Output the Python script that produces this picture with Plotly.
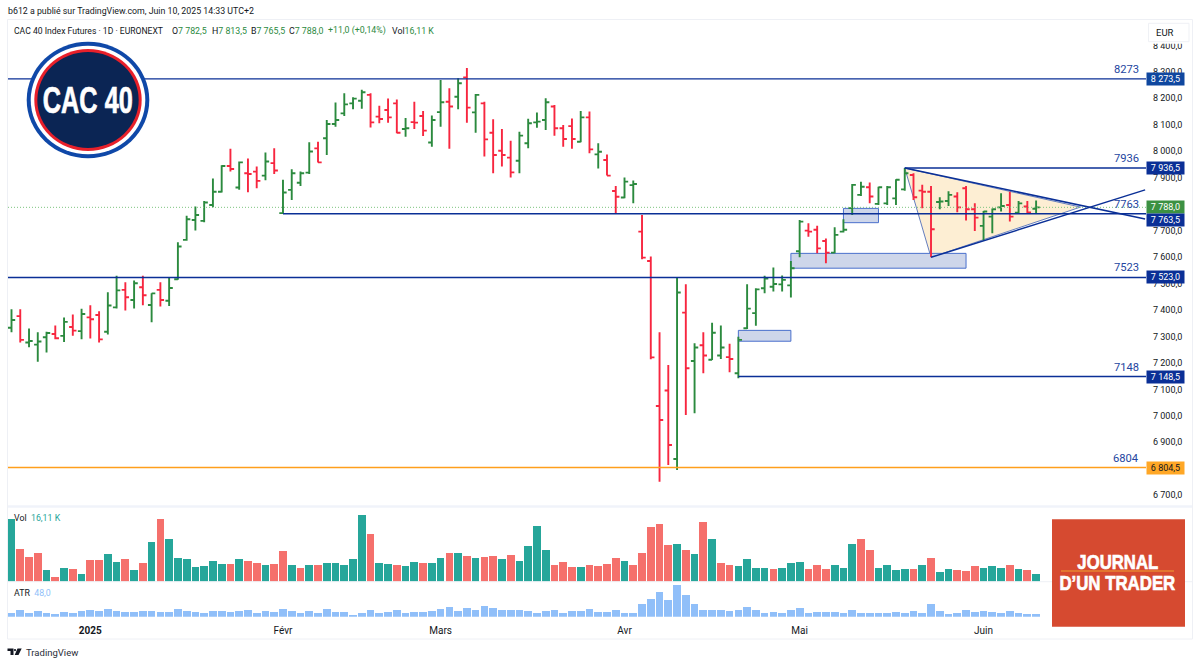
import plotly.graph_objects as go

W = 1200
H = 665

# bar number, one per trading day
bars = list(range(118))

open_ = [
    7333, 7377, 7277, 7269, 7297, 7309, 7302, 7336, 7320, 7372,
    7381, 7318, 7410, 7476, 7438, 7486, 7419, 7476, 7435, 7516,
    7665, 7740, 7737, 7797, 7847, 7944, 7863, 7917, 7923, 7908,
    7955, 7766, 7854, 7881, 7919, 8011, 8049, 8103, 8143, 8181,
    8191, 8213, 8131, 8156, 8181, 8084, 8110, 8133, 8033, 8148,
    8187, 8206, 8279, 8147, 8181, 8070, 8002, 7976, 7964, 8030,
    8109, 8118, 8169, 8087, 8095, 8036, 8128, 7988, 7967, 7850,
    7825, 7872, 7696, 7585, 7037, 7096, 6837, 7390, 7207, 7267,
    7212, 7228, 7222, 7161, 7331, 7388, 7482, 7488, 7497, 7493,
    7622, 7700, 7703, 7661, 7617, 7696, 7785, 7835, 7864, 7801,
    7803, 7822, 7856, 7910, 7851, 7847, 7808, 7812, 7829, 7860,
    7781, 7718, 7753, 7788, 7797, 7768, 7791, 7782.5,
]
high = [
    7403, 7403, 7330, 7316, 7318, 7341, 7372, 7383, 7405, 7418,
    7395, 7467, 7529, 7505, 7511, 7529, 7463, 7505, 7522, 7656,
    7756, 7791, 7812, 7897, 7947, 8009, 7961, 7973, 7942, 7995,
    8011, 7892, 7932, 7923, 8034, 8036, 8118, 8184, 8219, 8204,
    8232, 8219, 8172, 8199, 8196, 8126, 8187, 8152, 8135, 8269,
    8238, 8276, 8315, 8216, 8187, 8121, 8084, 8040, 8074, 8123,
    8146, 8200, 8175, 8099, 8124, 8152, 8150, 8030, 7988, 7869,
    7901, 7889, 7759, 7602, 7316, 7192, 7522, 7497, 7274, 7316,
    7352, 7341, 7272, 7299, 7497, 7482, 7529, 7561, 7530, 7585,
    7740, 7728, 7718, 7670, 7713, 7743, 7876, 7885, 7882, 7866,
    7869, 7894, 7936.5, 7917, 7873, 7869, 7826, 7849, 7845, 7869,
    7803, 7774, 7784, 7841, 7847, 7812, 7812, 7813.5,
]
low = [
    7316, 7277, 7259, 7204, 7239, 7289, 7279, 7303, 7289, 7292,
    7277, 7307, 7406, 7398, 7406, 7418, 7354, 7413, 7415, 7514,
    7662, 7700, 7732, 7788, 7844, 7923, 7854, 7845, 7860, 7890,
    7914, 7763.5, 7816, 7869, 7914, 7957, 7986, 8093, 8133, 8159,
    8161, 8090, 8106, 8108, 8068, 8055, 8084, 8058, 8017, 8093,
    8009, 8159, 8108, 8070, 7980, 7917, 7942, 7901, 7917, 8011,
    8089, 8080, 8059, 8017, 8009, 8034, 7992, 7935, 7908, 7763,
    7822, 7803, 7592, 7214, 6751, 6814, 6795, 7003, 7010, 7161,
    7211, 7215, 7165, 7142, 7328, 7340, 7463, 7470, 7470, 7447,
    7599, 7677, 7614, 7577, 7614, 7693, 7759, 7831, 7803, 7797,
    7797, 7797, 7851, 7816, 7785, 7599, 7781, 7793, 7769, 7738,
    7699, 7662, 7690, 7772, 7734, 7766, 7766, 7765.5,
]
close = [
    7362, 7287, 7283, 7281, 7313, 7293, 7355, 7322, 7385, 7365,
    7289, 7417, 7474, 7448, 7501, 7456, 7463, 7438, 7483, 7640,
    7743, 7759, 7806, 7847, 7944, 7933, 7958, 7914, 7888, 7961,
    7927, 7844, 7917, 7917, 7999, 7958, 8103, 8118, 8177, 8199,
    8223, 8109, 8122, 8128, 8070, 8087, 8108, 8078, 8118, 8185,
    8169, 8257, 8165, 8213, 8045, 7986, 7986, 7920, 8059, 8106,
    8112, 8185, 8087, 8046, 8046, 8128, 8007, 7998, 7908, 7828,
    7885, 7876, 7598, 7221, 6984, 6890, 7466, 7180, 7258, 7228,
    7314, 7258, 7215, 7287, 7405, 7478, 7519, 7498, 7514, 7558,
    7734, 7696, 7633, 7617, 7684, 7703, 7873, 7866, 7829, 7864,
    7864, 7892, 7917, 7826, 7847, 7705, 7810, 7835, 7788, 7781,
    7749, 7772, 7781, 7793, 7753, 7803, 7769, 7788,
]

# volume in thousands, 1 = up day
volume = [
    131, 69, 52, 60, 24, 10, 29, 27, 15, 46,
    46, 57, 41, 48, 25, 38, 83, 131, 89, 50,
    47, 30, 33, 44, 36, 36, 48, 44, 38, 34,
    36, 64, 34, 29, 34, 34, 39, 39, 34, 48,
    140, 99, 38, 36, 34, 33, 41, 39, 39, 50,
    60, 60, 53, 50, 52, 53, 47, 55, 44, 75,
    116, 66, 34, 41, 30, 30, 34, 32, 36, 49,
    43, 35, 60, 114, 121, 76, 78, 66, 58, 125,
    90, 39, 35, 32, 47, 29, 29, 26, 29, 39,
    41, 26, 34, 27, 34, 29, 78, 89, 67, 29,
    34, 24, 26, 26, 34, 49, 19, 26, 24, 22,
    32, 29, 32, 29, 34, 26, 24, 16.11,
]
volume_up = [
    1, 0, 0, 0, 1, 0, 1, 0, 1, 0,
    0, 1, 1, 0, 1, 0, 1, 0, 1, 1,
    1, 1, 1, 1, 1, 0, 1, 0, 0, 1,
    0, 0, 1, 0, 1, 0, 1, 1, 1, 1,
    1, 0, 1, 1, 0, 1, 1, 0, 1, 1,
    0, 1, 0, 1, 0, 0, 1, 0, 1, 1,
    1, 1, 0, 0, 0, 1, 0, 0, 0, 0,
    1, 0, 0, 0, 0, 0, 1, 0, 1, 0,
    1, 0, 0, 1, 1, 1, 1, 0, 1, 1,
    1, 0, 0, 0, 1, 1, 1, 0, 0, 1,
    1, 1, 1, 0, 1, 0, 1, 1, 0, 0,
    0, 1, 1, 1, 0, 1, 0, 1,
]
atr = [
    54, 65, 51, 62, 54, 48, 57, 54, 62, 65,
    62, 72, 62, 57, 57, 62, 62, 57, 57, 72,
    62, 57, 54, 62, 62, 57, 62, 65, 54, 62,
    57, 72, 62, 51, 62, 54, 72, 57, 57, 43,
    51, 65, 51, 57, 65, 51, 57, 57, 62, 72,
    83, 62, 78, 69, 86, 78, 65, 65, 69, 62,
    51, 62, 65, 54, 62, 62, 72, 57, 57, 69,
    54, 54, 96, 118, 153, 113, 185, 139, 94, 69,
    69, 65, 62, 69, 83, 69, 51, 57, 51, 65,
    75, 51, 57, 57, 57, 51, 69, 51, 54, 51,
    51, 57, 54, 62, 54, 94, 62, 48, 54, 65,
    57, 62, 57, 51, 62, 51, 48, 48,
]

price_ticks = [6700, 6900, 7000, 7100, 7200, 7300, 7400, 7500, 7600, 7700,
               7900, 8000, 8100, 8200, 8300, 8400]
date_ticks = [9, 31, 49, 70, 90, 111]
date_labels = ["<b>2025</b>", "Févr", "Mars", "Avr", "Mai", "Juin"]

# horizontal levels: price, label, first bar (None = from the left edge)
level_prices = [8273.5, 7936.5, 7763.5, 7523.0, 7148.5, 6804.5]
level_labels = ["8273", "7936", "7763", "7523", "7148", "6804"]
level_starts = [None, 102, 31, None, 83, None]

# wedge drawn on the chart
wedge_bars = [102, 105, 122.07]
wedge_prices = [7936.5, 7599, 7789]
upper_bars = [102, 129.45]
upper_prices = [7936.5, 7744]
lower_bars = [105, 129.45]
lower_prices = [7599, 7854]

# demand zones: first bar, last bar, bottom, top
zone_bars = [(83, 89), (89, 109), (95, 99)]
zone_prices = [(7282, 7323), (7558, 7614), (7730, 7784)]

GREEN = "#2b8a3e"
RED = "#f7263f"
NAVY = "#0a2f96"
ORANGE = "#ff9f1c"
FONT = "Roboto"
LOGO_FONT = "Liberation Sans"


# pixel position in the page -> paper fraction
def px(x):
    return x / W


def py(y):
    return 1 - y / H


X_RANGE = [-0.40, 129.55]

fig = go.Figure()

fig.add_trace(go.Ohlc(
    x=bars, open=open_, high=high, low=low, close=close, tickwidth=0.42,
    increasing=dict(line=dict(color=GREEN, width=1.9)),
    decreasing=dict(line=dict(color=RED, width=1.9)),
))

fig.add_trace(go.Scatter(
    x=X_RANGE, y=[close[-1], close[-1]], mode="lines",
    line=dict(color="#7cc47f", width=1, dash="1px,2px"),
))
for price, start in zip(level_prices, level_starts):
    fig.add_trace(go.Scatter(
        x=[X_RANGE[0] if start is None else start, X_RANGE[1]], y=[price, price],
        mode="lines",
        line=dict(color=ORANGE if price < 7000 else NAVY, width=1.4),
    ))
fig.add_trace(go.Scatter(x=upper_bars, y=upper_prices, mode="lines",
                         line=dict(color=NAVY, width=1.5)))
fig.add_trace(go.Scatter(x=lower_bars, y=lower_prices, mode="lines",
                         line=dict(color=NAVY, width=1.5)))

fig.add_trace(go.Bar(
    x=bars, y=volume, yaxis="y2", width=0.88,
    marker=dict(color=["#26a69a" if u else "#f5706c" for u in volume_up], line_width=0),
))
fig.add_trace(go.Bar(
    x=bars, y=atr, yaxis="y3", width=0.88,
    marker=dict(color="#90bff9", line_width=0),
))

wedge_path = "M" + " L".join(f"{b},{p}" for b, p in zip(wedge_bars, wedge_prices)) + " Z"
shapes = [
    # wedge and zones sit under the bars
    dict(type="path", xref="x", yref="y", layer="below", path=wedge_path, fillcolor="#fdeed3",
         line=dict(color="rgba(50,85,175,0.75)", width=1)),
]
for (b0, b1), (p0, p1) in zip(zone_bars, zone_prices):
    shapes.append(dict(type="rect", xref="x", yref="y", layer="below", x0=b0, x1=b1, y0=p0, y1=p1,
                       fillcolor="#ced6ea", line=dict(color="#4a70cc", width=1)))

shapes += [
    # frame and pane separators
    dict(type="rect", xref="paper", yref="paper", x0=px(7.5), x1=px(1192.5), y0=py(639), y1=py(19.5),
         line=dict(color="#eef0f5", width=1)),
    dict(type="line", xref="paper", yref="paper", x0=px(8), x1=px(1192), y0=py(506.5), y1=py(506.5),
         line=dict(color="#f0f3fa", width=2.5)),
    dict(type="line", xref="paper", yref="paper", x0=px(8), x1=px(1192), y0=py(581.7), y1=py(581.7),
         line=dict(color="#eef0f5", width=1)),
    # the currency button hides the top of the first price label
    dict(type="rect", xref="paper", yref="paper", x0=px(1147), x1=px(1192), y0=py(43.8), y1=py(20.5),
         fillcolor="white", line_width=0),
    dict(type="rect", xref="paper", yref="paper", x0=px(1148.5), x1=px(1189), y0=py(41.7), y1=py(23.3),
         fillcolor="white", line=dict(color="#eff1f5", width=1)),
    # CAC 40 badge
    dict(type="circle", xref="paper", yref="paper", x0=px(26.7), x1=px(149.3), y0=py(158.3), y1=py(41.7),
         fillcolor="#0f48a8", line_width=0),
    dict(type="circle", xref="paper", yref="paper", x0=px(30.7), x1=px(145.3), y0=py(154.3), y1=py(45.7),
         fillcolor="white", line_width=0),
    dict(type="circle", xref="paper", yref="paper", x0=px(34.3), x1=px(141.7), y0=py(151), y1=py(49),
         fillcolor="#e8202a", line_width=0),
    dict(type="circle", xref="paper", yref="paper", x0=px(37.3), x1=px(138.7), y0=py(148), y1=py(52),
         fillcolor="#0b2554", line_width=0),
    # Journal d'un trader box
    dict(type="rect", xref="paper", yref="paper", x0=px(1052), x1=px(1185), y0=py(626.7), y1=py(519.3),
         fillcolor="#d64a30", line_width=0),
    dict(type="line", xref="paper", yref="paper", x0=px(1061), x1=px(1174), y0=py(571), y1=py(571),
         line=dict(color="#f0a030", width=1)),
    # TradingView mark
    dict(type="path", xref="paper", yref="paper", line_width=0, fillcolor="#131722",
         path=" ".join([
             f"M{px(7.5)},{py(648.5)} L{px(13.5)},{py(648.5)} L{px(13.5)},{py(655)} L{px(10.5)},{py(655)}",
             f"L{px(10.5)},{py(651)} L{px(7.5)},{py(651)} Z",
             f"M{px(17.5)},{py(648.5)} L{px(21.7)},{py(648.5)} L{px(18.5)},{py(655)} L{px(14.7)},{py(655)} Z",
         ])),
    dict(type="circle", xref="paper", yref="paper", line_width=0, fillcolor="#131722",
         x0=px(13.9), x1=px(16.1), y0=py(651.2), y1=py(649)),
]


def text(x, y, s, size=8.8, color="#131722", family=FONT, anchor="left", **kw):
    return dict(xref="paper", yref="paper", x=px(x), y=py(y), text=s, showarrow=False,
                xanchor=anchor, yanchor="middle", font=dict(size=size, color=color, family=family), **kw)


def val(label, value):
    return f'{label}<span style="color:{GREEN}">{value}</span>'


annotations = [
    text(6, 10.5, "b612 a publié sur TradingView.com, Juin 10, 2025 14:33 UTC+2"),
    text(11.5, 30.5, "CAC 40 Index Futures · 1D · EURONEXT", size=8.6),
    text(170, 30.5, val("O", "7 782,5")),
    text(209.5, 30.5, val("H", "7 813,5")),
    text(248.5, 30.5, val("B", "7 765,5")),
    text(287, 30.5, val("C", "7 788,0")),
    text(325.5, 30.5, "+11,0 (+0,14%)", color=GREEN),
    text(389.5, 30.5, val("Vol", "16,11 K")),
    text(1153.5, 32.5, "EUR", size=9.5),
    text(11.5, 518, 'Vol  <span style="color:#26a69a">16,11 K</span>'),
    text(11.5, 592.5, 'ATR  <span style="color:#90bff9">48,0</span>'),
    text(23.5, 652, "TradingView", size=9.5, color="#2a2e39"),
    text(88, 100, "<b>CAC 40</b>", size=37, color="white", family=LOGO_FONT, anchor="center"),
    text(1117.5, 561, "<b>JOURNAL</b>", size=21, color="white", family=LOGO_FONT, anchor="center"),
    text(1117.5, 582, "<b>D’UN TRADER</b>", size=21, color="white", family=LOGO_FONT, anchor="center"),
]

for price, label in zip(level_prices, level_labels):
    annotations.append(dict(
        xref="paper", yref="y", x=px(1141), y=price, text=label, showarrow=False,
        xanchor="right", yanchor="bottom", yshift=1,
        font=dict(size=11.2, color="#2546a0", family=FONT),
    ))


def pill(price, s, bg, color="white", yshift=0):
    return dict(xref="paper", yref="y", x=px(1165.5), y=price, text=s, showarrow=False,
                xanchor="center", yanchor="middle", yshift=yshift, width=37, height=11.5,
                bgcolor=bg, borderpad=0, font=dict(size=9, color=color, family=FONT))


annotations += [
    pill(8273.5, "8 273,5", "#0f479f"),
    pill(7936.5, "7 936,5", "#0a2f96"),
    pill(7788.0, "7 788,0", "#3c9142"),
    pill(7763.5, "7 763,5", "#0a2f96", yshift=-6.5),
    pill(7523.0, "7 523,0", "#0a2f96"),
    pill(7148.5, "7 148,5", "#0a2f96"),
    pill(6804.5, "6 804,5", "#ffa726", color="#131722"),
]

axis_font = dict(size=9, color="#131722", family=FONT)
fig.update_layout(
    width=W,
    height=H,
    margin=dict(l=0, r=0, t=0, b=0),
    paper_bgcolor="white",
    plot_bgcolor="white",
    showlegend=False,
    bargap=0,
    hovermode=False,
    shapes=shapes,
    annotations=annotations,
    xaxis=dict(
        domain=[px(8), px(1146)], range=X_RANGE, anchor="y3", rangeslider=dict(visible=False),
        showgrid=False, zeroline=False, showline=False, ticks="",
        tickvals=date_ticks, ticktext=date_labels, tickfont=dict(size=10, color="#131722", family=FONT),
        ticklabelstandoff=6,
    ),
    yaxis=dict(
        domain=[py(505), py(20)], range=[6663, 8496], side="right", anchor="x",
        showgrid=False, zeroline=False, showline=False, ticks="",
        tickvals=price_ticks, ticktext=[f"{p // 1000} {p % 1000:03d},0" for p in price_ticks],
        tickfont=axis_font, ticklabelstandoff=6,
    ),
    yaxis2=dict(domain=[py(581.5), py(508)], range=[0, 154], anchor="x", visible=False),
    yaxis3=dict(domain=[py(616.7), py(582)], range=[35, 201.6], anchor="x", visible=False),
)

# squeeze the two logos' lettering to the condensed width they have in the picture
post = """
document.body.style.margin = '0';
setTimeout(function () {
  var fit = {'CAC 40': 90, 'JOURNAL': 81, 'D’UN TRADER': 116};
  document.querySelectorAll('.annotation-text').forEach(function (t) {
    var w = fit[t.textContent];
    if (!w) return;
    var b = t.getBBox();
    var cx = b.x + b.width / 2;
    t.setAttribute('transform', 'translate(' + cx + ' 0) scale(' + (w / b.width) + ' 1) translate(' + (-cx) + ' 0)');
    t.style.stroke = 'white';
    t.style.strokeWidth = '0.7px';
  });
}, 50);
"""
fig.write_html("out.html", config=dict(displayModeBar=False), post_script=post)
